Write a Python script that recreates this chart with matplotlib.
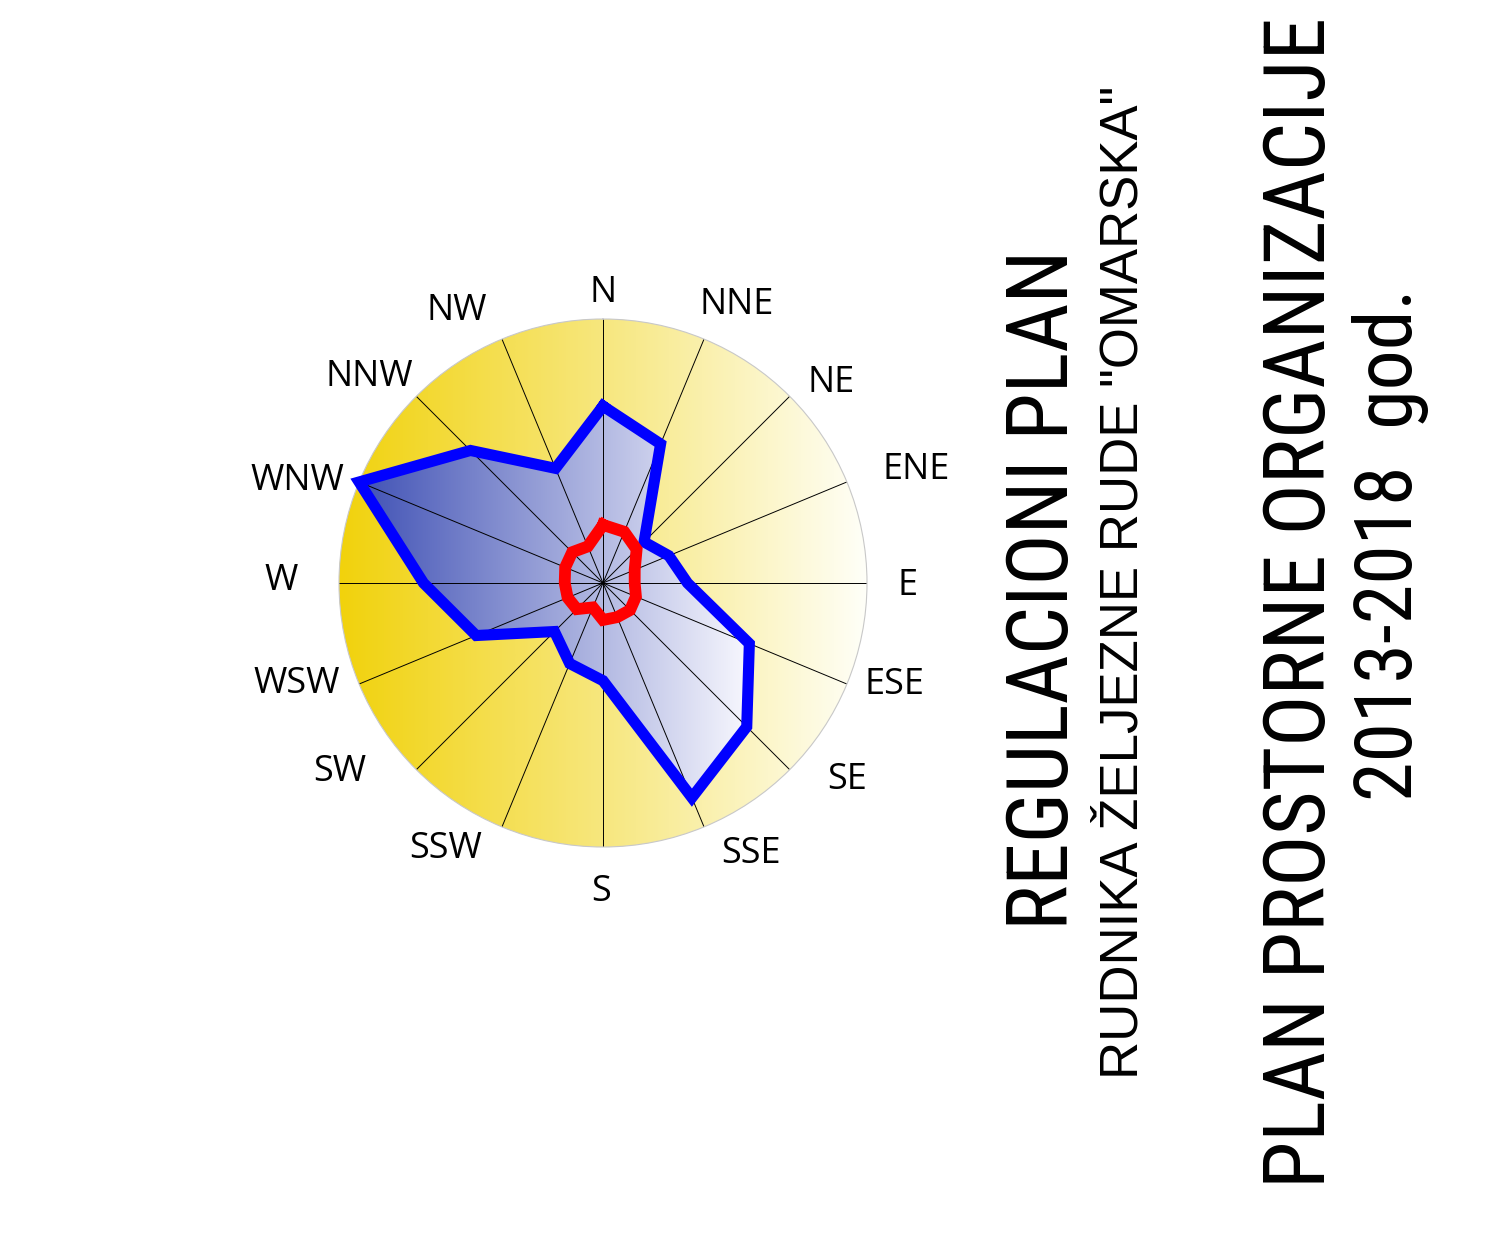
import numpy as np
import matplotlib
matplotlib.use('Agg')
import matplotlib.pyplot as plt
from matplotlib.patches import Circle
from matplotlib.colors import LinearSegmentedColormap

# ---------------- data ----------------
directions = ['N', 'NNE', 'NE', 'ENE', 'E', 'ESE', 'SE', 'SSE',
              'S', 'SSW', 'SW', 'WSW', 'W', 'WNW', 'NNW', 'NW']
blue_values = [0.67, 0.57, 0.22, 0.27, 0.32, 0.60, 0.77, 0.88,
               0.37, 0.33, 0.26, 0.52, 0.68, 1.00, 0.71, 0.47]
red_values = [0.22, 0.21, 0.18, 0.13, 0.12, 0.135, 0.145, 0.14,
              0.14, 0.10, 0.14, 0.145, 0.145, 0.155, 0.165, 0.15]
title_lines = ['REGULACIONI PLAN',
               'RUDNIKA ŽELJEZNE RUDE "OMARSKA"',
               'PLAN PROSTORNE ORGANIZACIJE',
               '2013-2018  god.']

# label placement (style): angle in degrees, radius in axis units
label_angle = [0, 25.7, 48.7, 70.1, 90.6, 109.3, 128.9, 151.3,
               180.4, 210.6, 234.3, 251.7, 270.4, 288.5, 311.5, 331.7]
label_radius = [1.10, 1.17, 1.15, 1.26, 1.155, 1.17, 1.19, 1.17,
                1.17, 1.17, 1.23, 1.22, 1.22, 1.22, 1.18, 1.17]

W, H = 1486, 1248
fig = plt.figure(figsize=(W / 100, H / 100), dpi=100)
cx, cy, R = 603, 583, 264
rect = [(cx - R) / W, 1 - (cy + R) / H, 2 * R / W, 2 * R / H]

# background (gradients)
bg = fig.add_axes(rect, zorder=0)
bg.set_xlim(-1, 1)
bg.set_ylim(-1, 1)
bg.axis('off')
grad = np.linspace(0, 1, 512).reshape(1, -1)
yellow = LinearSegmentedColormap.from_list('yel', ['#F1D20C', '#F7E77E', '#FFFFF8'])
im_y = bg.imshow(grad, extent=(-1, 1, -1, 1), cmap=yellow, aspect='auto',
                 origin='lower', interpolation='bilinear')
circ = Circle((0, 0), 1, transform=bg.transData, facecolor='none', edgecolor='none')
bg.add_patch(circ)
im_y.set_clip_path(circ)

# polar axes
ax = fig.add_axes(rect, projection='polar', zorder=1)
ax.set_facecolor('none')
ax.set_theta_zero_location('N')
ax.set_theta_direction(-1)
theta = np.deg2rad(np.arange(len(directions)) * 360.0 / len(directions))
ax.set_ylim(0, 1)
ax.set_xticks(theta)
ax.set_xticklabels([])
ax.set_yticks([])
ax.grid(True, axis='x', color='black', lw=0.7)
ax.spines['polar'].set_color('#C8C8C8')
ax.spines['polar'].set_linewidth(0.8)

tc = np.append(theta, theta[0])
bv = np.append(blue_values, blue_values[0])
rv = np.append(red_values, red_values[0])

fill_patch = ax.fill(tc, bv, facecolor='none', edgecolor='none')[0]
xs = np.array(blue_values) * np.sin(theta)
blue_cmap = LinearSegmentedColormap.from_list('blu', ['#4152B5', '#F8F8FE'])
im_b = bg.imshow(grad, extent=(xs.min(), xs.max(), -1, 1), cmap=blue_cmap,
                 aspect='auto', origin='lower', interpolation='bilinear', zorder=2)
im_b.set_clip_path(fill_patch)

ax.plot(tc, bv, color='#0000FF', lw=8, solid_joinstyle='miter', clip_on=False, zorder=3)
ax.plot(tc, rv, color='#FF0000', lw=8.5, solid_joinstyle='miter', clip_on=False, zorder=4)

for lab, a, r in zip(directions, label_angle, label_radius):
    ax.text(np.deg2rad(a), r, lab, ha='center', va='center', fontsize=26,
            family=['Open Sans', 'DejaVu Sans'])

# titles
fam_cond = ['Roboto Condensed', 'DejaVu Sans']
fam_sub = ['Liberation Sans', 'DejaVu Sans']
specs = [(1068, 590, 61.5, fam_cond), (1137, 582, 38, fam_sub),
         (1325, 602, 61.5, fam_cond), (1412, 545, 57.5, fam_cond)]
for s, (x, y, fs, fam) in zip(title_lines, specs):
    fig.text(x / W, 1 - y / H, s, rotation=90, rotation_mode='anchor',
             ha='center', va='baseline', fontsize=fs, family=fam)

fig.savefig('out.png', dpi=100)
